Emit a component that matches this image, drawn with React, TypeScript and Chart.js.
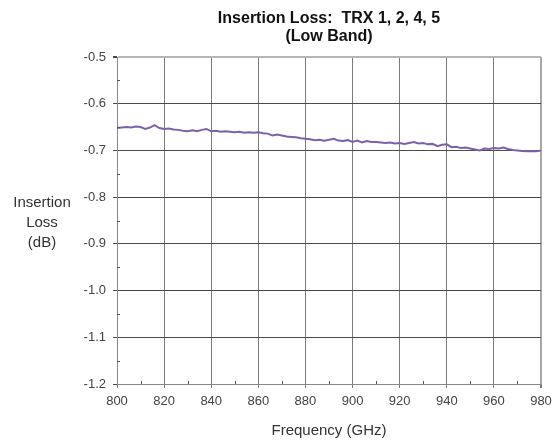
import React, { useEffect, useRef } from "react";
import { Chart, registerables } from "chart.js";

Chart.register(...registerables);

const titleLines = ["Insertion Loss:  TRX 1, 2, 4, 5", "(Low Band)"];
const yTitleLines = ["Insertion", "Loss", "(dB)"];
const xTitle = "Frequency (GHz)";

const frequencies = [
  800, 802, 804, 806, 808, 810, 812, 814, 816, 818,
  820, 822, 824, 826, 828, 830, 832, 834, 836, 838,
  840, 842, 844, 846, 848, 850, 852, 854, 856, 858,
  860, 862, 864, 866, 868, 870, 872, 874, 876, 878,
  880, 882, 884, 886, 888, 890, 892, 894, 896, 898,
  900, 902, 904, 906, 908, 910, 912, 914, 916, 918,
  920, 922, 924, 926, 928, 930, 932, 934, 936, 938,
  940, 942, 944, 946, 948, 950, 952, 954, 956, 958,
  960, 962, 964, 966, 968, 970, 972, 974, 976, 978,
  980,
];

const insertionLoss = [
  -0.652, -0.651, -0.650, -0.651, -0.649, -0.650, -0.654, -0.651, -0.646, -0.652,
  -0.654, -0.653, -0.655, -0.656, -0.658, -0.659, -0.657, -0.659, -0.656, -0.654,
  -0.659, -0.658, -0.660, -0.659, -0.660, -0.661, -0.660, -0.662, -0.661, -0.662,
  -0.661, -0.663, -0.664, -0.668, -0.666, -0.668, -0.670, -0.671, -0.672, -0.674,
  -0.675, -0.676, -0.678, -0.677, -0.679, -0.677, -0.675, -0.679, -0.680, -0.678,
  -0.682, -0.679, -0.683, -0.680, -0.682, -0.682, -0.683, -0.684, -0.683, -0.685,
  -0.684, -0.686, -0.684, -0.682, -0.685, -0.684, -0.687, -0.686, -0.691, -0.688,
  -0.687, -0.693, -0.692, -0.695, -0.694, -0.696, -0.698, -0.700, -0.696, -0.697,
  -0.695, -0.696, -0.694, -0.697, -0.699, -0.700, -0.701, -0.702, -0.701, -0.702,
  -0.700,
];

const xMin = 800;
const xMax = 980;
const xStep = 20;
const xMinorTicks = [810, 830, 850, 870, 890, 910, 930, 950, 970];
const yMin = -1.2;
const yMax = -0.5;
const yStep = 0.1;
const yMinorTicks = [-0.55, -0.65, -0.75, -0.85, -0.95, -1.05, -1.15];

const FONT = "'Liberation Sans', Arial, sans-serif";

const textPlugin = {
  id: "customText",
  afterDraw(chart: any) {
    const ctx = chart.ctx as CanvasRenderingContext2D;
    const area = chart.chartArea;
    const xs = chart.scales.x;
    const ys = chart.scales.y;
    ctx.save();
    // minor ticks
    ctx.strokeStyle = "#555";
    ctx.lineWidth = 1;
    ctx.beginPath();
    yMinorTicks.forEach((v) => {
      const py = Math.round(ys.getPixelForValue(v)) + 0.5;
      ctx.moveTo(area.left, py);
      ctx.lineTo(area.left + 3, py);
    });
    xMinorTicks.forEach((v) => {
      const px = Math.round(xs.getPixelForValue(v)) + 0.5;
      ctx.moveTo(px, area.bottom);
      ctx.lineTo(px, area.bottom - 3);
    });
    ctx.stroke();

    const cx = (area.left + area.right) / 2;
    ctx.textAlign = "center";
    ctx.textBaseline = "middle";
    // title
    ctx.fillStyle = "#111";
    ctx.font = `bold 16px ${FONT}`;
    ctx.fillText(titleLines[0], cx, 19);
    ctx.fillText(titleLines[1], cx, 37);
    // y title
    ctx.fillStyle = "#333";
    ctx.font = `15px ${FONT}`;
    yTitleLines.forEach((t, i) => ctx.fillText(t, 42, 203 + i * 20));
    // x title
    ctx.font = `15px ${FONT}`;
    ctx.fillText(xTitle, cx, 431);
    ctx.restore();
  },
};

export default function App() {
  const ref = useRef<HTMLCanvasElement | null>(null);

  useEffect(() => {
    document.body.style.margin = "0";
    if (!ref.current) return;
    const chart = new Chart(ref.current, {
      type: "line",
      data: {
        datasets: [
          {
            data: frequencies.map((f, i) => ({ x: f, y: insertionLoss[i] })),
            borderColor: "#7e60aa",
            borderWidth: 2,
            pointRadius: 0,
            tension: 0,
            fill: false,
          },
        ],
      },
      options: {
        animation: false,
        responsive: false,
        layout: { padding: { left: 0, top: 57, right: 12, bottom: 0 } },
        plugins: {
          legend: { display: false },
          title: { display: false },
          tooltip: { enabled: false },
        },
        scales: {
          x: {
            type: "linear",
            min: xMin,
            max: xMax,
            afterFit: (s: any) => {
              s.height = 56;
              s.paddingLeft = 0;
              s.paddingRight = 0;
            },
            ticks: {
              stepSize: xStep,
              padding: 6,
              color: "#444",
              font: { family: FONT, size: 13 },
              maxRotation: 0,
            },
            grid: {
              color: (c: any) => (c.tick && c.tick.value === xMax ? "#a8a8a8" : "#7a7a7a"),
              lineWidth: (c: any) => (c.tick && c.tick.value === xMax ? 2 : 1),
              tickLength: 4,
              tickColor: "#7a7a7a",
            },
            border: { color: "#888", width: 1 },
          },
          y: {
            type: "linear",
            min: yMin,
            max: yMax,
            afterFit: (s: any) => {
              s.width = 117;
              s.paddingTop = 0;
              s.paddingBottom = 0;
            },
            ticks: {
              stepSize: yStep,
              padding: 7,
              color: "#444",
              font: { family: FONT, size: 13 },
              callback: (v: any) => Number(v).toFixed(1),
            },
            grid: {
              color: (c: any) => (c.tick && Math.abs(c.tick.value - yMax) < 1e-9 ? "#b4b4b4" : "#4a4a4a"),
              lineWidth: (c: any) => (c.tick && Math.abs(c.tick.value - yMax) < 1e-9 ? 2 : 1),
              tickLength: 4,
              tickColor: "#4a4a4a",
            },
            border: { color: "#888", width: 1 },
          },
        },
      },
      plugins: [textPlugin],
    });
    return () => chart.destroy();
  }, []);

  return (
    <div style={{ position: "absolute", left: 0, top: 0, width: 553, height: 440, background: "#fff" }}>
      <canvas ref={ref} width={553} height={440} style={{ width: 553, height: 440, display: "block" }} />
    </div>
  );
}
